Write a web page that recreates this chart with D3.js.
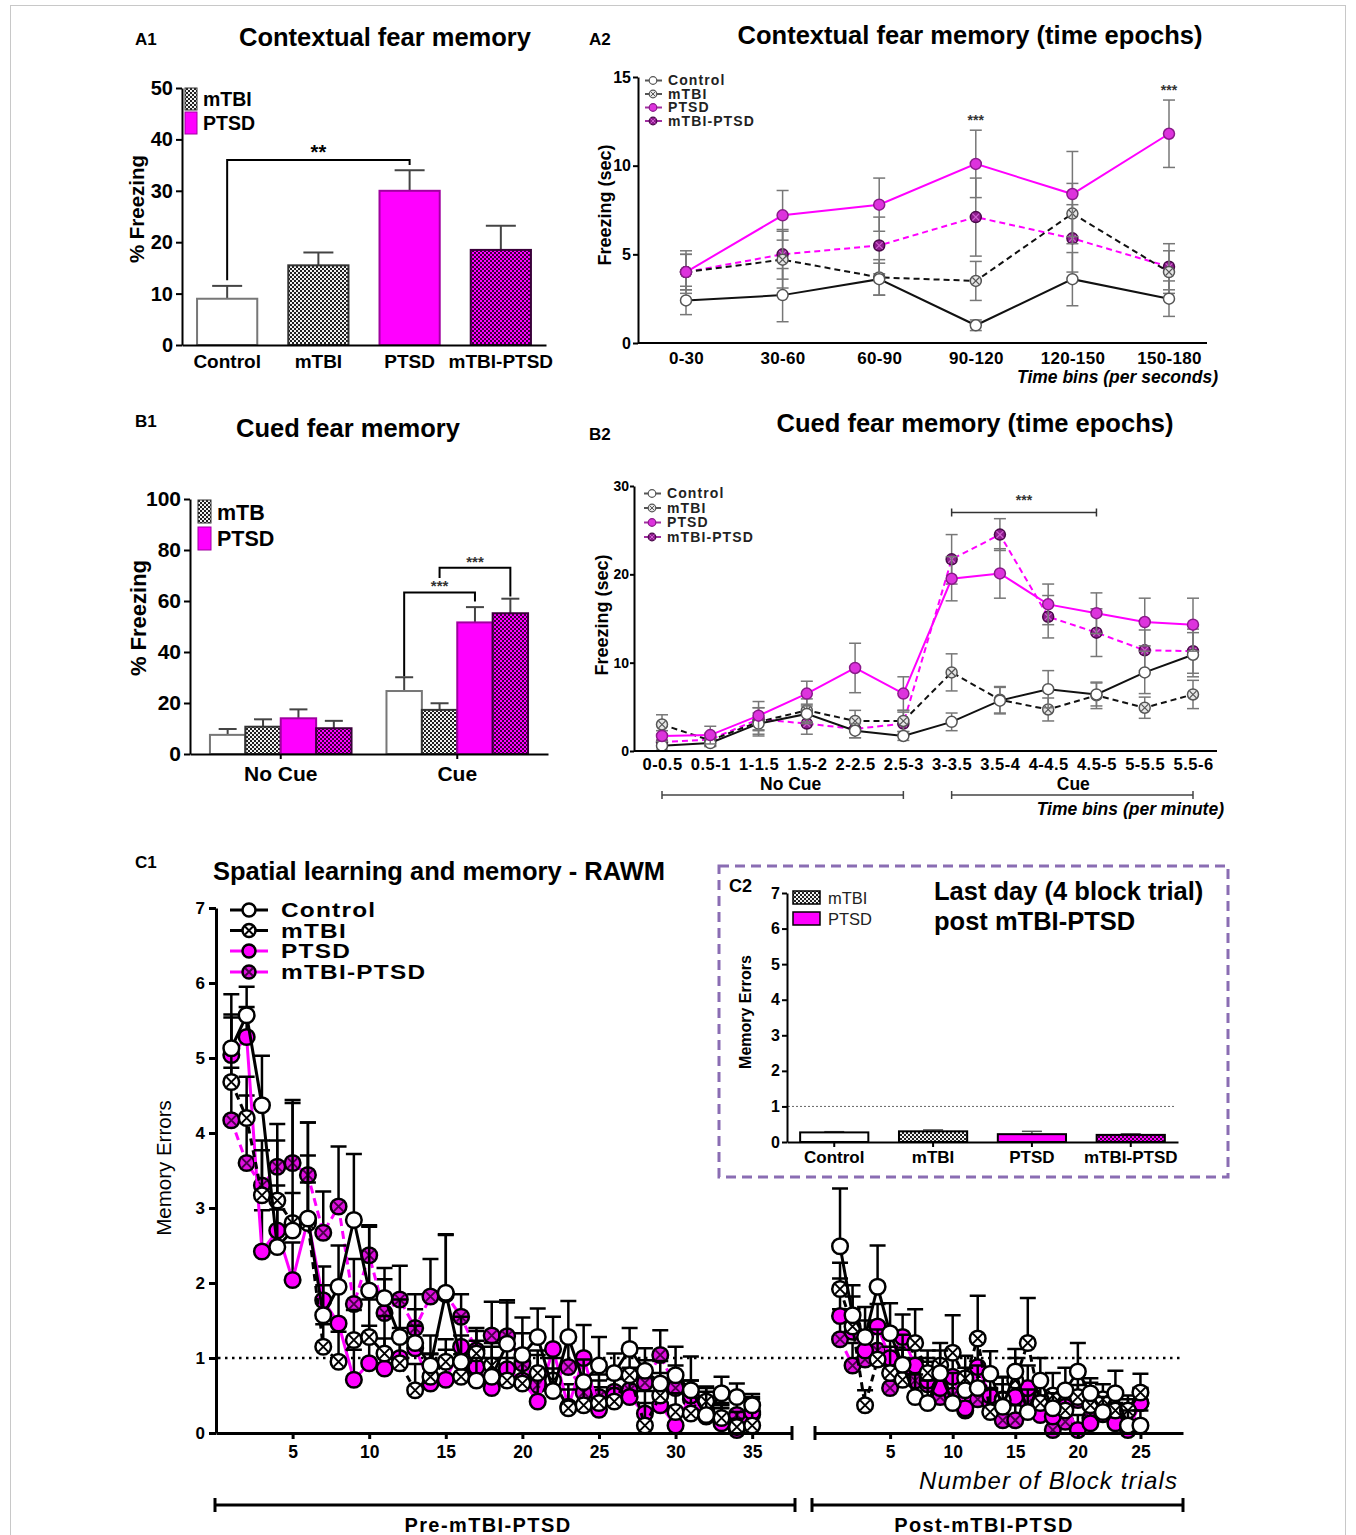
<!DOCTYPE html>
<html>
<head>
<meta charset="utf-8">
<title>Fear memory and RAWM after mTBI-PTSD</title>
<script src="https://cdn.jsdelivr.net/npm/d3@7"></script>
<style>
  body { margin: 0; background: #fff; }
</style>
</head>
<body>
<svg id="fig" width="1356" height="1535"></svg>
<script>
// ---- values ----
var groups = ["Control", "mTBI", "PTSD", "mTBI-PTSD"];

// A1 contextual fear memory (% freezing)
var a1Mean = [9, 15.5, 30, 18.5];
var a1Sem = [2.5, 2.5, 4, 4.7];

// A2 contextual fear memory per 30 s epoch (sec)
var a2Bins = ["0-30", "30-60", "60-90", "90-120", "120-150", "150-180"];
var a2Control = [2.4, 2.7, 3.6, 1.0, 3.6, 2.5];
var a2ControlSem = [0.8, 1.5, 0.9, 0.3, 1.5, 1.0];
var a2Mtbi = [4.0, 4.7, 3.7, 3.5, 7.3, 4.0];
var a2MtbiSem = [1.0, 1.6, 1.0, 1.1, 1.7, 1.2];
var a2Ptsd = [4.0, 7.2, 7.8, 10.1, 8.4, 11.8];
var a2PtsdSem = [1.0, 1.4, 1.5, 1.9, 2.4, 1.9];
var a2Combo = [4.0, 5.0, 5.5, 7.1, 5.9, 4.3];
var a2ComboSem = [1.2, 1.4, 1.6, 2.2, 1.9, 1.3];

// B1 cued fear memory (% freezing)
var b1Conds = ["No Cue", "Cue"];
var b1NoCue = [7.5, 10.7, 14, 10.1];
var b1NoCueSem = [2.3, 2.9, 3.5, 2.9];
var b1Cue = [24.7, 17.3, 51.6, 55.2];
var b1CueSem = [5.4, 2.6, 6, 5.7];

// B2 cued fear memory per 30 s epoch (sec)
var b2Bins = ["0-0.5", "0.5-1", "1-1.5", "1.5-2", "2-2.5", "2.5-3", "3-3.5", "3.5-4", "4-4.5", "4.5-5", "5-5.5", "5.5-6"];
var b2Control = [0.6, 0.9, 3.1, 4.2, 2.3, 1.7, 3.3, 5.7, 7.0, 6.4, 8.9, 10.9];
var b2ControlSem = [0.5, 0.4, 1.2, 1.1, 0.8, 0.5, 1.0, 1.5, 2.1, 1.3, 2.4, 2.5];
var b2Mtbi = [3.0, 1.2, 3.3, 4.6, 3.4, 3.4, 8.9, 5.8, 4.7, 6.3, 4.9, 6.4];
var b2MtbiSem = [1.1, 0.6, 1.6, 1.3, 1.2, 1.2, 2.1, 1.5, 1.3, 1.5, 1.2, 1.6];
var b2Ptsd = [1.7, 1.8, 4.0, 6.5, 9.4, 6.5, 19.5, 20.1, 16.6, 15.6, 14.6, 14.3];
var b2PtsdSem = [0.6, 1.0, 1.6, 1.4, 2.8, 1.9, 2.5, 2.8, 2.3, 2.3, 2.7, 3.0];
var b2Combo = [1.0, 1.3, 3.6, 3.1, 2.5, 3.1, 21.7, 24.5, 15.2, 13.4, 11.4, 11.3];
var b2ComboSem = [0.6, 0.7, 1.3, 1.2, 1.0, 1.3, 2.8, 1.8, 2.4, 2.7, 2.3, 2.5];

// C1 RAWM memory errors, pre (35 block trials) and post (25 block trials)
var c1PreControl = [5.13, 5.57, 4.37, 2.48, 2.7, 2.86, 1.57, 1.95, 2.84, 1.9, 1.8, 1.28, 1.2, 0.9, 1.87, 0.95, 0.7, 0.75, 1.19, 1.04, 1.28, 0.56, 1.28, 0.68, 0.9, 0.8, 1.12, 0.83, 0.66, 0.77, 0.57, 0.24, 0.53, 0.48, 0.37];
var c1PreControlSem = [0.72, 0.38, 0.66, 0.5, 1.74, 1.28, 0.4, 0.55, 0.88, 0.85, 0.4, 0.5, 0.45, 0.4, 0.77, 0.35, 0.3, 0.4, 0.58, 0.5, 0.38, 0.3, 0.48, 0.3, 0.38, 0.26, 0.28, 0.3, 0.3, 0.38, 0.45, 0.36, 0.22, 0.18, 0.15];
var c1PreMtbi = [4.68, 4.2, 3.17, 3.1, 2.8, 2.8, 1.15, 0.95, 1.24, 1.28, 1.06, 0.93, 0.57, 0.75, 0.95, 0.75, 1.06, 0.9, 0.7, 0.66, 0.8, 0.7, 0.33, 0.37, 0.4, 0.42, 0.77, 0.1, 0.5, 0.28, 0.26, 0.42, 0.2, 0.08, 0.1];
var c1PreMtbiSem = [0.9, 0.55, 0.6, 0.8, 0.4, 0.9, 0.3, 0.4, 0.4, 0.5, 0.5, 0.4, 0.35, 0.3, 0.3, 0.3, 0.3, 0.3, 0.3, 0.3, 0.3, 0.3, 0.25, 0.25, 0.3, 0.3, 0.3, 0.3, 0.3, 0.25, 0.3, 0.2, 0.2, 0.2, 0.2];
var c1PrePtsd = [5.04, 5.28, 2.42, 2.7, 2.04, 2.84, 1.77, 1.46, 0.71, 0.93, 0.86, 1.0, 1.13, 0.66, 0.71, 1.15, 0.88, 0.6, 0.85, 0.7, 0.42, 1.12, 0.35, 1.0, 0.31, 0.5, 0.48, 0.26, 0.37, 0.1, 0.5, 0.22, 0.13, 0.04, 0.28];
var c1PrePtsdSem = [0.5, 0.4, 0.55, 0.6, 0.5, 0.5, 0.45, 0.5, 0.4, 0.5, 0.4, 0.4, 0.3, 0.4, 0.4, 0.4, 0.35, 0.4, 0.3, 0.3, 0.3, 0.43, 0.3, 0.44, 0.3, 0.3, 0.3, 0.3, 0.3, 0.2, 0.2, 0.2, 0.2, 0.15, 0.2];
var c1PreCombo = [4.17, 3.6, 3.3, 3.55, 3.6, 3.44, 2.67, 3.02, 1.72, 2.37, 1.6, 1.78, 1.4, 1.82, 1.85, 1.55, 1.1, 1.3, 1.29, 0.93, 0.64, 0.7, 0.88, 0.54, 0.48, 0.55, 0.57, 0.67, 1.04, 0.6, 0.45, 0.3, 0.17, 0.24, 0.25];
var c1PreComboSem = [0.7, 0.9, 0.6, 0.57, 0.8, 0.7, 0.55, 0.8, 0.6, 0.4, 0.45, 0.45, 0.45, 0.5, 0.8, 0.3, 0.3, 0.45, 0.45, 0.4, 0.4, 0.4, 0.35, 0.4, 0.3, 0.3, 0.3, 0.3, 0.33, 0.3, 0.25, 0.25, 0.2, 0.2, 0.2];

var c1PostControl = [2.49, 1.57, 1.28, 1.95, 1.33, 0.91, 0.48, 0.4, 0.8, 0.4, 0.57, 0.6, 0.79, 0.35, 0.82, 0.28, 0.7, 0.33, 0.57, 0.82, 0.53, 0.28, 0.53, 0.1, 0.1];
var c1PostControlSem = [0.77, 0.4, 0.4, 0.55, 0.4, 0.4, 0.3, 0.3, 0.3, 0.4, 0.3, 0.3, 0.3, 0.3, 0.3, 0.3, 0.3, 0.2, 0.3, 0.38, 0.2, 0.2, 0.3, 0.2, 0.2];
var c1PostMtbi = [1.92, 1.42, 0.37, 0.98, 0.8, 0.71, 1.2, 0.8, 0.9, 1.07, 0.73, 1.26, 0.28, 0.44, 0.7, 1.2, 0.4, 0.5, 0.3, 0.48, 0.37, 0.45, 0.3, 0.3, 0.54];
var c1PostMtbiSem = [0.35, 0.4, 0.2, 0.4, 0.35, 0.4, 0.45, 0.3, 0.3, 0.5, 0.3, 0.57, 0.3, 0.3, 0.3, 0.6, 0.3, 0.3, 0.2, 0.3, 0.3, 0.2, 0.2, 0.2, 0.25];
var c1PostPtsd = [1.56, 1.35, 1.1, 1.42, 1.0, 1.28, 0.9, 0.7, 0.6, 0.75, 0.33, 0.88, 0.5, 0.45, 0.48, 0.6, 0.24, 0.22, 0.35, 0.04, 0.13, 0.25, 0.13, 0.04, 0.4];
var c1PostPtsdSem = [0.5, 0.3, 0.4, 0.3, 0.3, 0.3, 0.3, 0.3, 0.3, 0.3, 0.3, 0.4, 0.3, 0.3, 0.3, 0.3, 0.2, 0.2, 0.2, 0.2, 0.2, 0.2, 0.2, 0.15, 0.2];
var c1PostCombo = [1.25, 0.9, 0.98, 1.1, 0.6, 0.84, 0.7, 0.65, 0.48, 0.5, 0.3, 0.45, 0.4, 0.17, 0.17, 0.4, 0.3, 0.04, 0.15, 0.44, 0.2, 0.3, 0.25, 0.3, 0.4];
var c1PostComboSem = [0.4, 0.3, 0.3, 0.3, 0.3, 0.3, 0.3, 0.3, 0.2, 0.3, 0.2, 0.3, 0.2, 0.2, 0.2, 0.2, 0.2, 0.15, 0.15, 0.2, 0.2, 0.2, 0.15, 0.15, 0.2];

// C2 last day (4 block trial) memory errors
var c2Mean = [0.27, 0.3, 0.22, 0.2];
var c2Sem = [0.02, 0.04, 0.08, 0.03];

var preTicks = [5, 10, 15, 20, 25, 30, 35];
var postTicks = [5, 10, 15, 20, 25];

// ---- drawing ----
var FONT = "'Liberation Sans', Arial, Helvetica, sans-serif";
var TITLE = 25.5;
var svg = d3.select("#fig");
var defs = svg.append("defs");

function checker(id, bg, fg, s) {
  var p = defs.append("pattern").attr("id", id)
    .attr("patternUnits", "userSpaceOnUse").attr("width", s * 2).attr("height", s * 2);
  p.append("rect").attr("width", s * 2).attr("height", s * 2).attr("fill", bg);
  p.append("rect").attr("width", s).attr("height", s).attr("fill", fg);
  p.append("rect").attr("x", s).attr("y", s).attr("width", s).attr("height", s).attr("fill", fg);
}
checker("chkGray", "#202020", "#f2f2f2", 2);
checker("chkPurple", "#3a003a", "#ff00ff", 2);

var barFill = ["#fff", "url(#chkGray)", "#ff00ff", "url(#chkPurple)"];
var barStroke = ["#777", "#333", "#a000a0", "#3a003a"];

function label(g, x, y, s, size, o) {
  o = o || {};
  var t = g.append("text").attr("x", x).attr("y", y).text(s)
    .attr("font-family", FONT).attr("font-size", size)
    .attr("font-weight", o.weight || "bold")
    .attr("text-anchor", o.anchor || "start")
    .attr("fill", o.fill || "#000");
  if (o.ls) t.attr("letter-spacing", o.ls);
  if (o.italic) t.attr("font-style", "italic");
  if (o.rotate) t.attr("transform", "rotate(-90," + x + "," + y + ")");
  if (o.sx) t.attr("x", 0).attr("y", 0).attr("transform", "translate(" + x + "," + y + ") scale(" + o.sx + ",1)");
  return t;
}

function styleAxis(g, size, w, ls) {
  g.select(".domain").attr("stroke", "#000").attr("stroke-width", w);
  g.selectAll(".tick line").attr("stroke", "#000").attr("stroke-width", w);
  g.selectAll(".tick text").attr("font-family", FONT).attr("font-size", size)
    .attr("font-weight", "bold").attr("fill", "#000").attr("letter-spacing", ls || null);
}

function hline(g, x1, x2, y, w, col, dash) {
  return g.append("line").attr("x1", x1).attr("x2", x2).attr("y1", y).attr("y2", y)
    .attr("stroke", col || "#000").attr("stroke-width", w).attr("stroke-dasharray", dash || null);
}
function vline(g, x, y1, y2, w, col) {
  return g.append("line").attr("x1", x).attr("x2", x).attr("y1", y1).attr("y2", y2)
    .attr("stroke", col || "#000").attr("stroke-width", w);
}

function marker(g, cx, cy, r, st, sw) {
  g.append("circle").attr("cx", cx).attr("cy", cy).attr("r", r)
    .attr("fill", st.fill).attr("stroke", st.stroke).attr("stroke-width", sw);
  if (st.cross) {
    var k = r * 0.62;
    g.append("path")
      .attr("d", "M" + (cx - k) + "," + (cy - k) + "L" + (cx + k) + "," + (cy + k) +
                 "M" + (cx - k) + "," + (cy + k) + "L" + (cx + k) + "," + (cy - k))
      .attr("stroke", st.cross).attr("stroke-width", sw * 0.8);
  }
}

// one series: error bars, connecting line, symbols
function plotSeries(g, xs, y, vals, sem, st, o) {
  var pts = vals.map(function (v, i) { return { x: xs[i], v: v, e: sem[i] }; });
  var eb = g.append("g");
  pts.forEach(function (p) {
    var top = y(p.v + p.e);
    var bot = o.both ? y(Math.max(0, p.v - p.e)) : y(p.v);
    vline(eb, p.x, top, bot, o.errW, o.errCol);
    hline(eb, p.x - o.cap, p.x + o.cap, top, o.errW, o.errCol);
    if (o.both) hline(eb, p.x - o.cap, p.x + o.cap, bot, o.errW, o.errCol);
  });
  g.append("path").datum(pts)
    .attr("d", d3.line().x(function (d) { return d.x; }).y(function (d) { return y(d.v); }))
    .attr("fill", "none").attr("stroke", st.line).attr("stroke-width", o.lineW)
    .attr("stroke-dasharray", st.dash || null);
  pts.forEach(function (p) { marker(g, p.x, y(p.v), o.r, st, o.sw); });
}

var epochStyle = [
  { line: "#111", dash: null, fill: "#fff", stroke: "#555", cross: null },
  { line: "#111", dash: "6,4", fill: "#e6e6e6", stroke: "#555", cross: "#555" },
  { line: "#ff00ff", dash: null, fill: "#dd33dd", stroke: "#8a1a8a", cross: null },
  { line: "#ff00ff", dash: "6,4", fill: "#8e1c8e", stroke: "#4a0a4a", cross: "#d060d0" }
];
var rawmStyle = [
  { line: "#000", dash: null, fill: "#fff", stroke: "#000", cross: null },
  { line: "#000", dash: "7,5", fill: "#fff", stroke: "#000", cross: "#000" },
  { line: "#ff00ff", dash: null, fill: "#ff00ff", stroke: "#000", cross: null },
  { line: "#ff00ff", dash: "8,5", fill: "#e010e0", stroke: "#000", cross: "#4a004a" }
];

// outer frame
svg.append("rect").attr("x", 10.5).attr("y", 5.5).attr("width", 1335).attr("height", 1545)
  .attr("fill", "none").attr("stroke", "#c8c8c8").attr("stroke-width", 1);

// =============== A1 ===============
var a1 = svg.append("g");
var a1y = d3.scaleLinear().domain([0, 50]).range([345, 88]);
var a1x = d3.scaleBand().domain(groups).range([182, 546]).paddingInner(0.34).paddingOuter(0.165);

label(a1, 135, 45, "A1", 17);
label(a1, 385, 46, "Contextual fear memory", TITLE, { anchor: "middle" });

groups.forEach(function (gname, i) {
  var cx = a1x(gname) + a1x.bandwidth() / 2;
  var top = a1y(a1Mean[i] + a1Sem[i]);
  vline(a1, cx, top, a1y(a1Mean[i]), 2, "#444");
  hline(a1, cx - 15, cx + 15, top, 2, "#444");
  a1.append("rect").attr("x", a1x(gname)).attr("y", a1y(a1Mean[i]))
    .attr("width", a1x.bandwidth()).attr("height", a1y(0) - a1y(a1Mean[i]))
    .attr("fill", barFill[i]).attr("stroke", barStroke[i]).attr("stroke-width", 2);
});

var a1ya = a1.append("g").attr("transform", "translate(182,0)")
  .call(d3.axisLeft(a1y).tickValues([0, 10, 20, 30, 40, 50]).tickSize(6).tickSizeOuter(0).tickPadding(3));
styleAxis(a1ya, 20, 2);
var a1xa = a1.append("g").attr("transform", "translate(0,345)")
  .call(d3.axisBottom(a1x).tickSize(0).tickSizeOuter(0).tickPadding(10));
styleAxis(a1xa, 19, 2);
label(a1, 144, 209, "% Freezing", 20.5, { anchor: "middle", rotate: true });

// significance bracket Control vs PTSD
var a1c = a1x("Control") + a1x.bandwidth() / 2, a1p = a1x("PTSD") + a1x.bandwidth() / 2;
a1.append("path").attr("d", "M" + a1c + "," + a1y(12.6) + "V" + a1y(36) + "H" + a1p + "V" + a1y(35))
  .attr("fill", "none").attr("stroke", "#000").attr("stroke-width", 2);
label(a1, (a1c + a1p) / 2, a1y(36.2), "**", 20, { anchor: "middle" });

a1.append("rect").attr("x", 185).attr("y", 88).attr("width", 12).attr("height", 22)
  .attr("fill", "url(#chkGray)").attr("stroke", "#333").attr("stroke-width", 1);
a1.append("rect").attr("x", 185).attr("y", 112).attr("width", 12).attr("height", 22)
  .attr("fill", "#ff00ff").attr("stroke", "#a000a0").attr("stroke-width", 1);
label(a1, 203, 106, "mTBI", 19.5);
label(a1, 203, 130, "PTSD", 19.5);

// =============== A2 ===============
var a2 = svg.append("g");
var a2x = d3.scalePoint().domain(a2Bins).range([686, 1169]);
var a2y = d3.scaleLinear().domain([0, 15]).range([343, 77]);

label(a2, 589, 45, "A2", 17);
label(a2, 970, 44, "Contextual fear memory (time epochs)", TITLE, { anchor: "middle" });

var a2xs = a2Bins.map(function (b) { return a2x(b); });
var a2Vals = [a2Control, a2Mtbi, a2Ptsd, a2Combo];
var a2Sems = [a2ControlSem, a2MtbiSem, a2PtsdSem, a2ComboSem];
[3, 1, 0, 2].forEach(function (i) {
  plotSeries(a2, a2xs, a2y, a2Vals[i], a2Sems[i], epochStyle[i],
    { both: true, cap: 6, errW: 1.5, errCol: "#777", lineW: 2, r: 5.5, sw: 1.5 });
});

var a2ya = a2.append("g").attr("transform", "translate(638,0)")
  .call(d3.axisLeft(a2y).tickValues([0, 5, 10, 15]).tickSize(5).tickSizeOuter(0).tickPadding(2));
styleAxis(a2ya, 16, 2);
var a2xa = a2.append("g").attr("transform", "translate(0,343)")
  .call(d3.axisBottom(a2x).tickSize(0).tickPadding(9));
a2xa.select(".domain").remove();
styleAxis(a2xa, 17, 2, 0.3);
hline(a2, 638, 1207, 343, 2);
label(a2, 1218, 383, "Time bins (per seconds)", 17.5, { anchor: "end", italic: true });
label(a2, 611, 205, "Freezing (sec)", 18, { anchor: "middle", rotate: true });
label(a2, a2x("90-120"), a2y(12.0) - 5, "***", 14, { anchor: "middle", fill: "#333" });
label(a2, a2x("150-180"), a2y(13.7) - 5, "***", 14, { anchor: "middle", fill: "#333" });

function epochLegend(g, x, ys) {
  groups.forEach(function (gname, i) {
    var cy = ys[i] - 4.5;
    hline(g, x - 8, x + 9, cy, 2, i < 2 ? "#555" : "#a030a0");
    marker(g, x, cy, 3.8, epochStyle[i], 1.2);
    label(g, x + 15, ys[i], gname, 14, { fill: "#222", ls: 1.1 });
  });
}
epochLegend(a2, 653, [85, 98.5, 112, 125.5]);

// =============== B1 ===============
var b1 = svg.append("g");
var b1y = d3.scaleLinear().domain([0, 100]).range([754, 499]);
var b1x0 = d3.scaleBand().domain(b1Conds).range([190, 548]).paddingInner(0.198).paddingOuter(0.113);
var b1x1 = d3.scaleBand().domain(groups).range([0, b1x0.bandwidth()]);
var b1Vals = [b1NoCue, b1Cue], b1Sems = [b1NoCueSem, b1CueSem];

label(b1, 135, 427, "B1", 17);
label(b1, 348, 437, "Cued fear memory", TITLE, { anchor: "middle" });

b1Conds.forEach(function (c, ci) {
  groups.forEach(function (gname, i) {
    var x0 = b1x0(c) + b1x1(gname), cx = x0 + b1x1.bandwidth() / 2;
    var v = b1Vals[ci][i], top = b1y(v + b1Sems[ci][i]);
    vline(b1, cx, top, b1y(v), 2, "#444");
    hline(b1, cx - 9, cx + 9, top, 2, "#444");
    b1.append("rect").attr("x", x0).attr("y", b1y(v))
      .attr("width", b1x1.bandwidth()).attr("height", b1y(0) - b1y(v))
      .attr("fill", barFill[i]).attr("stroke", barStroke[i]).attr("stroke-width", 2);
  });
});

var b1ya = b1.append("g").attr("transform", "translate(190,0)")
  .call(d3.axisLeft(b1y).tickValues([0, 20, 40, 60, 80, 100]).tickSize(6).tickSizeOuter(0).tickPadding(3));
styleAxis(b1ya, 21, 2);
var b1xa = b1.append("g").attr("transform", "translate(0,754)")
  .call(d3.axisBottom(b1x0).tickSize(5).tickSizeOuter(0).tickPadding(7));
styleAxis(b1xa, 21, 2);
label(b1, 146, 618, "% Freezing", 22, { anchor: "middle", rotate: true });

function b1Center(c, gname) { return b1x0(c) + b1x1(gname) + b1x1.bandwidth() / 2; }
var bc = b1Center("Cue", "Control"), bm = b1Center("Cue", "mTBI"),
    bp = b1Center("Cue", "PTSD"), bx = b1Center("Cue", "mTBI-PTSD");
b1.append("path").attr("d", "M" + bc + "," + b1y(30.5) + "V" + b1y(63.3) + "H" + bp + "V" + b1y(59.8))
  .attr("fill", "none").attr("stroke", "#000").attr("stroke-width", 2);
b1.append("path").attr("d", "M" + bm + "," + b1y(69) + "V" + b1y(73) + "H" + bx + "V" + b1y(61.8))
  .attr("fill", "none").attr("stroke", "#000").attr("stroke-width", 2);
label(b1, (bc + bp) / 2, b1y(63.8), "***", 15, { anchor: "middle", fill: "#333" });
label(b1, (bm + bx) / 2, b1y(73.5), "***", 15, { anchor: "middle", fill: "#333" });

b1.append("rect").attr("x", 198).attr("y", 500).attr("width", 13).attr("height", 23)
  .attr("fill", "url(#chkGray)").attr("stroke", "#333").attr("stroke-width", 1);
b1.append("rect").attr("x", 198).attr("y", 527).attr("width", 13).attr("height", 23)
  .attr("fill", "#ff00ff").attr("stroke", "#a000a0").attr("stroke-width", 1);
label(b1, 217, 520, "mTB", 21.5);
label(b1, 217, 546, "PTSD", 21.5);

// =============== B2 ===============
var b2 = svg.append("g");
var b2x = d3.scalePoint().domain(b2Bins).range([662, 1193]);
var b2y = d3.scaleLinear().domain([0, 30]).range([751, 486]);

label(b2, 589, 440, "B2", 17);
label(b2, 975, 432, "Cued fear memory (time epochs)", TITLE, { anchor: "middle" });

var b2xs = b2Bins.map(function (b) { return b2x(b); });
var b2Vals = [b2Control, b2Mtbi, b2Ptsd, b2Combo];
var b2Sems = [b2ControlSem, b2MtbiSem, b2PtsdSem, b2ComboSem];
[3, 1, 0, 2].forEach(function (i) {
  plotSeries(b2, b2xs, b2y, b2Vals[i], b2Sems[i], epochStyle[i],
    { both: true, cap: 6, errW: 1.5, errCol: "#777", lineW: 2, r: 5.5, sw: 1.5 });
});

var b2ya = b2.append("g").attr("transform", "translate(634,0)")
  .call(d3.axisLeft(b2y).tickValues([0, 10, 20, 30]).tickSize(4).tickSizeOuter(0).tickPadding(1));
styleAxis(b2ya, 14, 2);
var b2xa = b2.append("g").attr("transform", "translate(0,751)")
  .call(d3.axisBottom(b2x).tickSize(0).tickPadding(7));
b2xa.select(".domain").remove();
styleAxis(b2xa, 16.5, 2, 0.5);
hline(b2, 634, 1217, 751, 2);
label(b2, 608, 615, "Freezing (sec)", 18, { anchor: "middle", rotate: true });

// period ranges below the axis
function rangeBar(g, x1, x2, y, w, h, col) {
  hline(g, x1, x2, y, w, col);
  vline(g, x1, y - h, y + h, w, col);
  vline(g, x2, y - h, y + h, w, col);
}
rangeBar(b2, b2x("0-0.5"), b2x("2.5-3"), 795, 1.5, 4, "#444");
rangeBar(b2, b2x("3-3.5"), b2x("5.5-6"), 795, 1.5, 4, "#444");
label(b2, (b2x("0-0.5") + b2x("2.5-3")) / 2 + 8, 790, "No Cue", 17.5, { anchor: "middle" });
label(b2, (b2x("3-3.5") + b2x("5.5-6")) / 2 + 1, 790, "Cue", 17.5, { anchor: "middle" });
label(b2, 1224, 815, "Time bins (per minute)", 17.5, { anchor: "end", italic: true });

// significance over the cue epochs
var sx1 = b2x("3-3.5"), sx2 = b2x("4.5-5");
hline(b2, sx1, sx2, b2y(27), 1.5, "#333");
vline(b2, sx1, b2y(27) - 4, b2y(27) + 4, 1.5, "#333");
vline(b2, sx2, b2y(27) - 4, b2y(27) + 4, 1.5, "#333");
label(b2, (sx1 + sx2) / 2, b2y(27.9), "***", 14, { anchor: "middle", fill: "#333" });

epochLegend(b2, 652, [498, 512.5, 527, 541.5]);

// =============== C1 ===============
var c1 = svg.append("g");
var c1y = d3.scaleLinear().domain([0, 7]).range([1433, 908]);
var preX = d3.scaleLinear().domain([0, 37.6]).range([216, 792]);
var postX = d3.scaleLinear().domain([-1, 28.4]).range([815, 1183]);

label(c1, 135, 868, "C1", 17);
label(c1, 439, 880, "Spatial learning and memory - RAWM", TITLE, { anchor: "middle" });

// criterion line at one error
hline(c1, 218, 1180, c1y(1), 2.5, "#000", "2.5,4.5");

var preVals = [c1PreControl, c1PreMtbi, c1PrePtsd, c1PreCombo];
var preSems = [c1PreControlSem, c1PreMtbiSem, c1PrePtsdSem, c1PreComboSem];
var postVals = [c1PostControl, c1PostMtbi, c1PostPtsd, c1PostCombo];
var postSems = [c1PostControlSem, c1PostMtbiSem, c1PostPtsdSem, c1PostComboSem];
var c1Opt = { both: false, cap: 8, errW: 2.5, errCol: "#000", lineW: 3, r: 7.8, sw: 2.5 };
[3, 2, 1, 0].forEach(function (i) {
  var xsPre = preVals[i].map(function (v, k) { return preX(k + 1); });
  var xsPost = postVals[i].map(function (v, k) { return postX(k + 1); });
  plotSeries(c1, xsPre, c1y, preVals[i], preSems[i], rawmStyle[i], c1Opt);
  plotSeries(c1, xsPost, c1y, postVals[i], postSems[i], rawmStyle[i], c1Opt);
});

var c1ya = c1.append("g").attr("transform", "translate(216,0)")
  .call(d3.axisLeft(c1y).ticks(7).tickSize(7).tickSizeOuter(0).tickPadding(4));
styleAxis(c1ya, 17, 3);
var preAx = c1.append("g").attr("transform", "translate(0,1433)")
  .call(d3.axisBottom(preX).tickValues(preTicks).tickSize(6).tickSizeOuter(0).tickPadding(7));
styleAxis(preAx, 17.5, 3);
vline(c1, 792, 1426, 1440, 3);
var postAx = c1.append("g").attr("transform", "translate(0,1433)")
  .call(d3.axisBottom(postX).tickValues(postTicks).tickSize(6).tickSizeOuter(0).tickPadding(7));
styleAxis(postAx, 17.5, 3);
vline(c1, 815, 1426, 1440, 3);

label(c1, 171, 1168, "Memory Errors", 20.5, { anchor: "middle", rotate: true, weight: "normal" });
label(c1, 1178, 1489, "Number of Block trials", 24, { anchor: "end", italic: true, weight: "normal", ls: 1.1 });

rangeBar(c1, 215, 795, 1505, 3, 7, "#000");
rangeBar(c1, 812, 1183, 1505, 3, 7, "#000");
label(c1, 488, 1532, "Pre-mTBI-PTSD", 20, { anchor: "middle", ls: 1.4 });
label(c1, 984, 1532, "Post-mTBI-PTSD", 20, { anchor: "middle", ls: 1.4 });

groups.forEach(function (gname, i) {
  var yb = [917, 937.5, 958, 979][i], cy = yb - 7;
  hline(c1, 230, 268, cy, 3, rawmStyle[i].line);
  marker(c1, 249, cy, 6.5, rawmStyle[i], 2.5);
  label(c1, 281, yb, gname, 19.5, { ls: 1, sx: 1.25 });
});

// =============== C2 inset ===============
var c2 = svg.append("g");
c2.append("rect").attr("x", 719).attr("y", 866).attr("width", 509).attr("height", 311)
  .attr("fill", "#fff").attr("stroke", "#8a6db3").attr("stroke-width", 3)
  .attr("stroke-dasharray", "10,6");
var c2y = d3.scaleLinear().domain([0, 7]).range([1142, 893]);
var c2x = d3.scaleBand().domain(groups).range([787, 1178]).paddingInner(0.31).paddingOuter(0.133);

label(c2, 729, 892, "C2", 18);
label(c2, 934, 900, "Last day (4 block trial)", TITLE);
label(c2, 934, 930, "post mTBI-PTSD", TITLE);

hline(c2, 788, 1176, c2y(1), 1, "#666", "2,2");
groups.forEach(function (gname, i) {
  var cx = c2x(gname) + c2x.bandwidth() / 2, top = c2y(c2Mean[i] + c2Sem[i]);
  vline(c2, cx, top, c2y(c2Mean[i]), 1.5, "#555");
  hline(c2, cx - 10, cx + 10, top, 1.5, "#555");
  c2.append("rect").attr("x", c2x(gname)).attr("y", c2y(c2Mean[i]))
    .attr("width", c2x.bandwidth()).attr("height", c2y(0) - c2y(c2Mean[i]))
    .attr("fill", barFill[i]).attr("stroke", "#000").attr("stroke-width", 2);
});
var c2ya = c2.append("g").attr("transform", "translate(787,0)")
  .call(d3.axisLeft(c2y).ticks(7).tickSize(5).tickSizeOuter(0).tickPadding(2));
styleAxis(c2ya, 16, 2);
var c2xa = c2.append("g").attr("transform", "translate(0,1142)")
  .call(d3.axisBottom(c2x).tickSize(5).tickSizeOuter(0).tickPadding(4));
styleAxis(c2xa, 17, 2);
label(c2, 751, 1012, "Memory Errors", 16, { anchor: "middle", rotate: true });

c2.append("rect").attr("x", 793).attr("y", 891).attr("width", 27).attr("height", 13)
  .attr("fill", "url(#chkGray)").attr("stroke", "#000").attr("stroke-width", 1.5);
c2.append("rect").attr("x", 793).attr("y", 912).attr("width", 27).attr("height", 13)
  .attr("fill", "#ff00ff").attr("stroke", "#000").attr("stroke-width", 1.5);
label(c2, 828, 904, "mTBI", 16.5, { weight: "normal", fill: "#222" });
label(c2, 828, 925, "PTSD", 16.5, { weight: "normal", fill: "#222" });
</script>
</body>
</html>
